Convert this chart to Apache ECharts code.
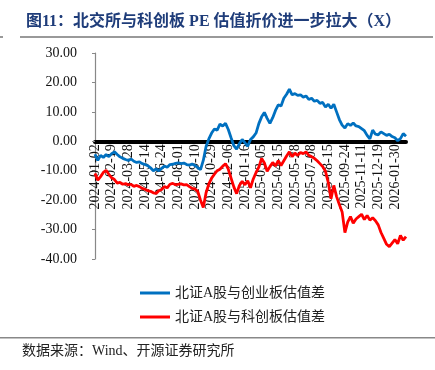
<!DOCTYPE html>
<html>
<head>
<meta charset="utf-8">
<script src="https://cdn.jsdelivr.net/npm/echarts@6/dist/echarts.min.js"></script>
<style>
html,body{margin:0;padding:0;background:#fff;}
#chart{width:435px;height:370px;}
</style>
</head>
<body>
<div id="chart"></div>
<script>
// Tick labels shown on the category axis (one every 6 points)
var tickLabels = ['2024-01-02','2024-02-19','2024-03-28','2024-05-14','2024-06-24','2024-08-01','2024-09-10','2024-10-29','2024-12-06','2025-01-16','2025-03-05','2025-04-15','2025-05-28','2025-07-08','2025-08-15','2025-09-24','2025-11-11','2025-12-19','2026-01-30'];
var pointsPerTick = 6;

// 北证A股与创业板估值差
var bseVsChiNext = [
  -4.4,-6.5,-4.8,-5.5,-4.5,-5.2,-4.2,-3.6,-4.5,-5.3,
  -5.8,-6.2,-6.5,-6.0,-6.8,-7.2,-7.0,-7.6,-7.9,-8.3,
  -9.0,-10.0,-9.4,-10.0,-9.2,-8.4,-8.8,-7.9,-7.8,-7.5,
  -7.3,-7.6,-7.4,-7.9,-8.1,-7.7,-8.2,-9.0,-9.6,-6.5,
  -1.8,0.8,2.8,4.2,3.8,5.8,5.2,6.1,4.0,1.2,
  -1.5,-2.7,-0.8,0.6,-0.5,-1.7,0.6,1.5,2.8,6.0,
  8.3,9.8,7.8,6.1,8.0,10.5,12.4,12.0,14.6,16.0,
  17.7,15.8,16.2,15.6,15.8,15.0,15.4,14.2,14.6,13.6,
  13.9,12.9,13.2,11.6,12.6,11.2,12.6,10.0,7.4,5.5,
  4.5,6.0,5.4,6.2,5.2,5.0,4.3,3.6,2.0,0.8,
  3.8,2.4,2.2,3.2,2.6,2.0,2.4,1.6,1.2,0.2,
  0.9,2.6,1.7
];

// 北证A股与科创板估值差
var bseVsStar = [
  -10.9,-13.2,-12.0,-10.6,-9.9,-11.2,-12.4,-13.0,-14.2,-14.0,
  -14.6,-14.4,-14.8,-14.6,-15.3,-15.0,-15.4,-16.0,-16.3,-16.8,
  -17.0,-17.5,-17.7,-16.8,-16.4,-15.4,-15.8,-14.6,-14.3,-14.8,
  -14.6,-14.5,-14.8,-14.7,-15.4,-16.0,-16.2,-17.0,-20.0,-22.5,
  -17.5,-14.5,-12.5,-11.2,-10.0,-9.5,-8.5,-7.6,-9.5,-12.5,
  -15.5,-17.8,-15.0,-13.6,-14.8,-13.4,-15.8,-12.8,-10.6,-8.8,
  -5.8,-7.4,-10.2,-8.6,-7.2,-8.4,-6.6,-8.2,-6.6,-5.0,
  -3.6,-5.2,-4.0,-4.8,-3.8,-4.2,-3.6,-4.8,-5.2,-5.8,
  -6.6,-7.6,-8.6,-10.2,-14.0,-19.5,-15.0,-18.8,-21.5,-24.0,
  -31.0,-27.5,-25.6,-27.8,-26.4,-25.6,-24.8,-26.6,-25.2,-26.8,
  -26.0,-27.0,-28.4,-31.0,-33.0,-35.0,-35.8,-34.6,-33.4,-34.8,
  -32.0,-33.6,-32.4
];

var seriesNames = ['北证A股与创业板估值差','北证A股与科创板估值差'];
var yTicks = { min: -40, max: 30, interval: 10 };

var categories = bseVsChiNext.map(function (v, i) {
  return (i % pointsPerTick === 0 && tickLabels[i / pointsPerTick]) ? tickLabels[i / pointsPerTick] : ('p' + i);
});

var serifFont = '"Liberation Serif", "Times New Roman", "Noto Sans CJK SC", serif';

var gridTop = 53, gridBottom = 111, chartH = 370;
var gridH = chartH - gridTop - gridBottom;
// distance from grid bottom edge up to the zero value
var zeroOffset = gridH * (0 - yTicks.min) / (yTicks.max - yTicks.min);

var chart = echarts.init(document.getElementById('chart'), null, { renderer: 'canvas' });
chart.setOption({
  animation: false,
  backgroundColor: '#fff',
  title: {
    text: '图11：北交所与科创板 PE 估值折价进一步拉大（X）',
    left: 21, top: 9,
    textStyle: { fontSize: 16, fontWeight: 'bold', color: '#1F3D7A', fontFamily: serifFont }
  },
  graphic: [
    { type: 'rect', shape: { x: 20, y: 36, width: 413, height: 2 }, style: { fill: '#999' } },
    { type: 'rect', shape: { x: 0, y: 36, width: 3, height: 2 }, style: { fill: '#999' } },
    { type: 'rect', shape: { x: 0, y: 337, width: 435, height: 1.5 }, style: { fill: '#888' } },
    { type: 'text', left: 22, top: 344, style: { text: '数据来源：Wind、开源证券研究所', fill: '#222', fontSize: 14, fontFamily: serifFont } }
  ],
  legend: {
    orient: 'vertical',
    left: 135, top: 281,
    icon: 'rect',
    itemWidth: 30, itemHeight: 3, itemGap: 10,
    textStyle: { fontSize: 14, color: '#222', fontFamily: serifFont },
    data: seriesNames
  },
  grid: { left: 95, right: 29, top: gridTop, bottom: gridBottom },
  xAxis: {
    type: 'category',
    data: categories,
    boundaryGap: false,
    position: 'bottom',
    offset: -zeroOffset,
    axisLine: { onZero: false, lineStyle: { color: '#000', width: 4 } },
    axisTick: { show: false },
    axisLabel: {
      rotate: 90,
      margin: 3,
      fontSize: 14,
      color: '#111',
      fontFamily: serifFont,
      interval: function (idx) { return idx % pointsPerTick === 0; }
    },
    splitLine: { show: false }
  },
  yAxis: {
    type: 'value',
    min: yTicks.min, max: yTicks.max, interval: yTicks.interval,
    axisLine: { show: true, lineStyle: { color: '#888', width: 1.2 } },
    axisTick: { show: true, length: 3, lineStyle: { color: '#888' } },
    axisLabel: {
      margin: 18, fontSize: 14, color: '#111', fontFamily: serifFont,
      formatter: function (v) { return v.toFixed(2); }
    },
    splitLine: { show: false }
  },
  series: [
    {
      name: seriesNames[0], type: 'line', data: bseVsChiNext,
      symbol: 'none', color: '#0070C0',
      lineStyle: { color: '#0070C0', width: 2.8 }
    },
    {
      name: seriesNames[1], type: 'line', data: bseVsStar,
      symbol: 'none', color: '#FF0000',
      lineStyle: { color: '#FF0000', width: 2.8 }
    }
  ]
});
</script>
</body>
</html>
